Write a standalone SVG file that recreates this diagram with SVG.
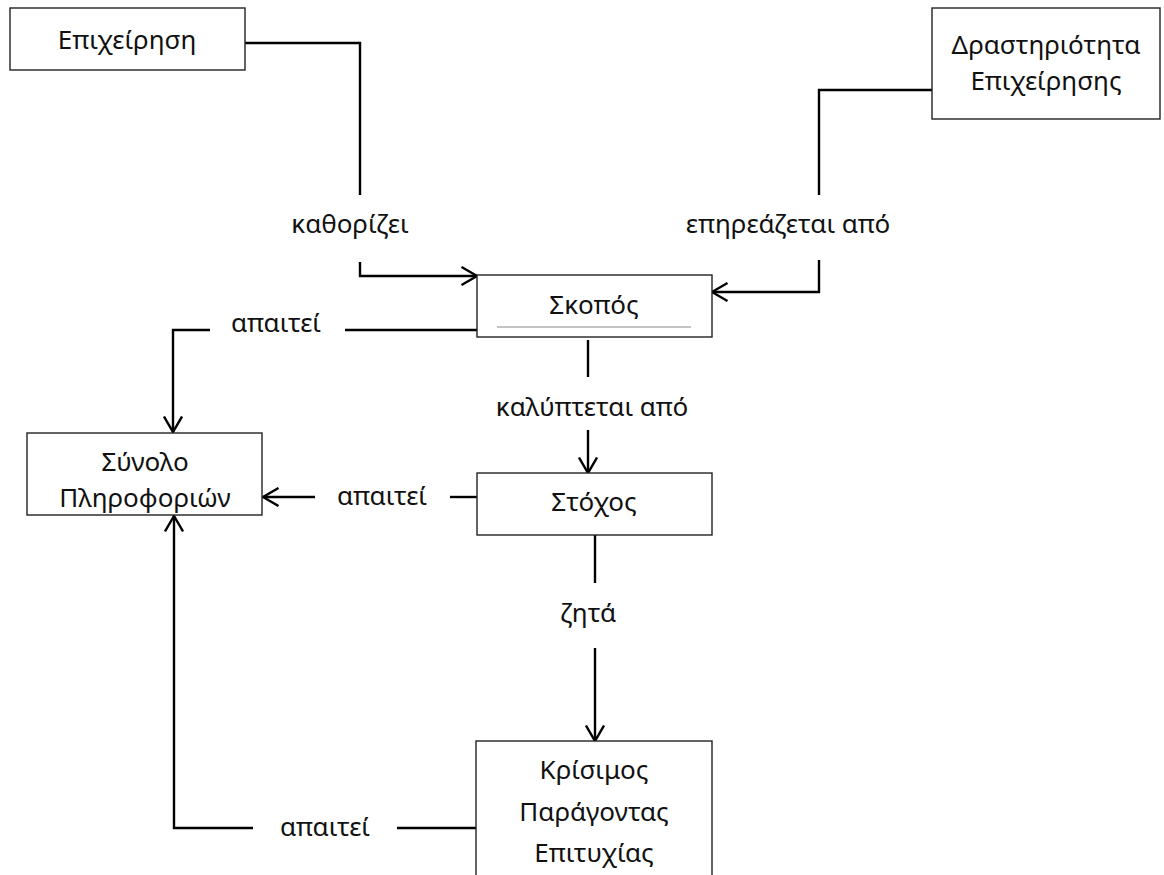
<svg xmlns="http://www.w3.org/2000/svg" width="1164" height="875" viewBox="0 0 1164 875">
  <style>
    .box { fill: #ffffff; stroke: #222222; stroke-width: 1.4; }
    .t { font-family: "Noto Sans", "Open Sans", "DejaVu Sans", sans-serif; font-size: 26px; fill: #111111; text-anchor: middle; }
    .link { fill: none; stroke: #000000; stroke-width: 2.4; }
    .arrow { marker-end: url(#vhead); }
  </style>
  <defs>
    <marker id="vhead" markerUnits="userSpaceOnUse" viewBox="0 0 18 20" refX="16.5" refY="10" markerWidth="18" markerHeight="20" orient="auto">
      <path d="M1,1 L16.5,10 L1,19" fill="none" stroke="#000000" stroke-width="2.4"/>
    </marker>
  </defs>
  <rect width="1164" height="875" fill="#ffffff"/>

  <!-- connectors and their labels -->
  <g id="connectors">
    <!-- Επιχείρηση -> Σκοπός -->
    <polyline class="link" points="245,43 360,43 360,195"/>
    <text class="t" x="350" y="233">καθορίζει</text>
    <polyline class="link arrow" points="360,262 360,276 477,276"/>

    <!-- Δραστηριότητα Επιχείρησης -> Σκοπός -->
    <polyline class="link" points="932,90 819,90 819,195"/>
    <text class="t" x="788" y="233">επηρεάζεται από</text>
    <polyline class="link arrow" points="819,260 819,292 712,292"/>

    <!-- Σκοπός -> Σύνολο Πληροφοριών -->
    <line class="link" x1="477" y1="330" x2="345" y2="330"/>
    <text class="t" x="276" y="332">απαιτεί</text>
    <polyline class="link arrow" points="210,330 173,330 173,432"/>

    <!-- Σκοπός -> Στόχος -->
    <line class="link" x1="588" y1="340" x2="588" y2="377"/>
    <text class="t" x="592" y="416">καλύπτεται από</text>
    <line class="link arrow" x1="588" y1="430" x2="588" y2="473"/>

    <!-- Στόχος -> Σύνολο Πληροφοριών -->
    <line class="link" x1="477" y1="497" x2="450" y2="497"/>
    <text class="t" x="382" y="505">απαιτεί</text>
    <line class="link arrow" x1="315" y1="497" x2="263" y2="497"/>

    <!-- Στόχος -> Κρίσιμος Παράγοντας Επιτυχίας -->
    <line class="link" x1="595" y1="535" x2="595" y2="583"/>
    <text class="t" x="588" y="622">ζητά</text>
    <line class="link arrow" x1="595" y1="648" x2="595" y2="741"/>

    <!-- Κρίσιμος Παράγοντας Επιτυχίας -> Σύνολο Πληροφοριών -->
    <line class="link" x1="476" y1="828" x2="397" y2="828"/>
    <text class="t" x="325" y="836">απαιτεί</text>
    <polyline class="link arrow" points="253,828 174,828 174,516"/>
  </g>

  <g id="node-epixeirisi">
    <rect class="box" x="10" y="8" width="235" height="62"/>
    <text class="t" x="127" y="49">Επιχείρηση</text>
  </g>

  <g id="node-drastiriotita">
    <rect class="box" x="932" y="8" width="228" height="111"/>
    <text class="t" x="1046" y="54">Δραστηριότητα</text>
    <text class="t" x="1046" y="90">Επιχείρησης</text>
  </g>

  <g id="node-skopos">
    <rect class="box" x="477" y="275" width="235" height="62"/>
    <text class="t" x="594" y="314">Σκοπός</text>
    <line x1="497" y1="327" x2="691" y2="327" stroke="#8a8a8a" stroke-width="1"/>
  </g>

  <g id="node-synolo">
    <rect class="box" x="27" y="433" width="235" height="82"/>
    <text class="t" x="145" y="471">Σύνολο</text>
    <text class="t" x="145" y="507">Πληροφοριών</text>
  </g>

  <g id="node-stoxos">
    <rect class="box" x="477" y="473" width="235" height="62"/>
    <text class="t" x="594" y="511">Στόχος</text>
  </g>

  <g id="node-kpe">
    <rect class="box" x="476" y="741" width="236" height="150"/>
    <text class="t" x="594" y="779">Κρίσιμος</text>
    <text class="t" x="594" y="821">Παράγοντας</text>
    <text class="t" x="594" y="862">Επιτυχίας</text>
  </g>
</svg>
